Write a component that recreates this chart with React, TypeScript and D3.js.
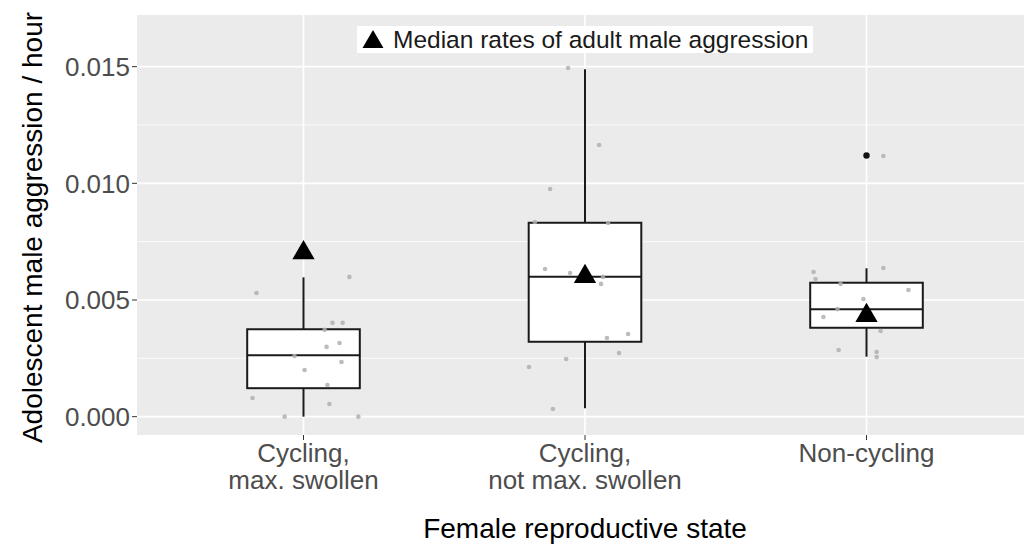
import React from "react";
import * as d3 from "d3";

const categories = ["Cycling,\nmax. swollen", "Cycling,\nnot max. swollen", "Non-cycling"];

// box statistics per category
const q1 = [0.00122, 0.00321, 0.00381];
const medians = [0.00263, 0.0060, 0.0046];
const q3 = [0.003746, 0.00831, 0.00574];
const whiskerLow = [0.0, 0.00036, 0.00257];
const whiskerHigh = [0.00597, 0.01489, 0.00636];
const outliers = [[], [], [0.01119]];

// median rates of adult male aggression (triangles)
const adultMedians = [0.00702, 0.0060, 0.00433];

// individual observations (jittered)
const pointsG1 = [0.0053, 0.00599, 0.00402, 0.00402, 0.00372, 0.00299, 0.00316, 0.0026, 0.00234, 0.002, 0.00136, 0.0008, 0.00054, 0.0, 0.0];
const jitterG1 = [-0.167, 0.163, 0.103, 0.139, 0.075, 0.082, 0.128, -0.032, 0.135, 0.004, 0.085, -0.181, 0.092, -0.067, 0.195];
const pointsG2 = [0.01494, 0.01164, 0.00976, 0.00834, 0.0083, 0.00633, 0.00616, 0.00599, 0.00569, 0.00337, 0.00354, 0.00273, 0.00247, 0.00213, 0.00033];
const jitterG2 = [-0.06, 0.05, -0.124, -0.178, 0.082, -0.142, -0.053, 0.064, 0.057, 0.078, 0.153, 0.121, -0.067, -0.199, -0.114];
const pointsG3 = [0.01117, 0.0062, 0.00637, 0.0059, 0.00569, 0.00543, 0.00504, 0.00461, 0.00427, 0.00367, 0.00286, 0.00277, 0.00256];
const jitterG3 = [0.06, -0.188, 0.06, -0.181, -0.092, 0.149, -0.011, -0.103, -0.153, 0.05, -0.099, 0.036, 0.036];

const yTicks = [0, 0.005, 0.01, 0.015];
const yMinor = [0.0025, 0.0075, 0.0125];

const yTitle = "Adolescent male aggression / hour";
const xTitle = "Female reproductive state";
const legendLabel = "Median rates of adult male aggression";

const FONT = "'Liberation Sans', Arial, Helvetica, sans-serif";

export default function App() {
  const W = 1024, H = 551;
  const panel = { left: 137, right: 1024, top: 15, bottom: 435 };
  const y = d3.scaleLinear().domain([-0.000786, 0.017214]).range([panel.bottom, panel.top]);
  const x = d3.scaleLinear().domain([0.4, 3.6]).range([134.6, 1035.4]);
  const unit = x(2) - x(1);
  const boxHalf = 0.2 * unit;

  const groups = [
    { pts: pointsG1, jit: jitterG1 },
    { pts: pointsG2, jit: jitterG2 },
    { pts: pointsG3, jit: jitterG3 },
  ];

  const tri = d3.symbol().type(d3.symbolTriangle).size(215)() as string;
  const triLegend = d3.symbol().type(d3.symbolTriangle).size(190)() as string;

  return (
    <svg width={W} height={H} style={{ position: "absolute", left: 0, top: 0, background: "#fff" }} fontFamily={FONT}>
      <rect x={0} y={0} width={W} height={H} fill="#fff" />
      {/* panel */}
      <rect x={panel.left} y={panel.top} width={panel.right - panel.left} height={panel.bottom - panel.top} fill="#ebebeb" />
      {yMinor.map((t) => (
        <line key={"mn" + t} x1={panel.left} x2={panel.right} y1={y(t)} y2={y(t)} stroke="#fff" strokeWidth={0.8} />
      ))}
      {yTicks.map((t) => (
        <line key={"mj" + t} x1={panel.left} x2={panel.right} y1={y(t)} y2={y(t)} stroke="#fff" strokeWidth={1.6} />
      ))}
      {categories.map((c, i) => (
        <line key={"vg" + i} x1={x(i + 1)} x2={x(i + 1)} y1={panel.top} y2={panel.bottom} stroke="#fff" strokeWidth={1.6} />
      ))}

      {/* boxes */}
      {categories.map((c, i) => {
        const cx = x(i + 1);
        return (
          <g key={"box" + i} stroke="#1a1a1a" strokeWidth={2} fill="none">
            <line x1={cx} x2={cx} y1={y(q3[i])} y2={y(whiskerHigh[i])} />
            <line x1={cx} x2={cx} y1={y(q1[i])} y2={y(whiskerLow[i])} />
            <rect x={cx - boxHalf} y={y(q3[i])} width={2 * boxHalf} height={y(q1[i]) - y(q3[i])} fill="#fff" />
            <line x1={cx - boxHalf} x2={cx + boxHalf} y1={y(medians[i])} y2={y(medians[i])} />
            {outliers[i].map((o, k) => (
              <circle key={k} cx={cx} cy={y(o)} r={3.2} fill="#111" stroke="none" />
            ))}
          </g>
        );
      })}

      {/* jittered points */}
      {groups.map((g, i) =>
        g.pts.map((v, k) => (
          <circle key={"p" + i + "_" + k} cx={x(i + 1 + g.jit[k])} cy={y(v)} r={2.3} fill="#b0b0b0" opacity={0.85} />
        ))
      )}

      {/* triangles */}
      {adultMedians.map((v, i) => (
        <path key={"t" + i} d={tri} transform={`translate(${x(i + 1)},${y(v)})`} fill="#000" />
      ))}

      {/* y axis */}
      {yTicks.map((t) => (
        <g key={"yt" + t}>
          <line x1={panel.left - 5} x2={panel.left} y1={y(t)} y2={y(t)} stroke="#333" strokeWidth={1} />
          <text x={panel.left - 7} y={y(t)} dy="0.36em" textAnchor="end" fontSize={26} fill="#4d4d4d">
            {d3.format(".3f")(t)}
          </text>
        </g>
      ))}
      {/* x axis */}
      {categories.map((c, i) => (
        <g key={"xt" + i}>
          <line x1={x(i + 1)} x2={x(i + 1)} y1={panel.bottom} y2={panel.bottom + 5} stroke="#333" strokeWidth={1} />
          <text x={x(i + 1)} y={462} textAnchor="middle" fontSize={26} fill="#4d4d4d">
            {c.split("\n").map((line, k) => (
              <tspan key={k} x={x(i + 1)} dy={k === 0 ? 0 : 27}>
                {line}
              </tspan>
            ))}
          </text>
        </g>
      ))}

      {/* titles */}
      <text x={x(2)} y={538} textAnchor="middle" fontSize={28} fill="#000">
        {xTitle}
      </text>
      <text transform={`translate(42,${(12 + 443) / 2}) rotate(-90)`} textAnchor="middle" fontSize={28} fill="#000">
        {yTitle}
      </text>

      {/* legend */}
      <rect x={357} y={26} width={456} height={27} fill="#fff" />
      <path d={triLegend} transform="translate(373,42)" fill="#000" />
      <text x={393} y={48} fontSize={24.5} fill="#1a1a1a">
        {legendLabel}
      </text>
    </svg>
  );
}
